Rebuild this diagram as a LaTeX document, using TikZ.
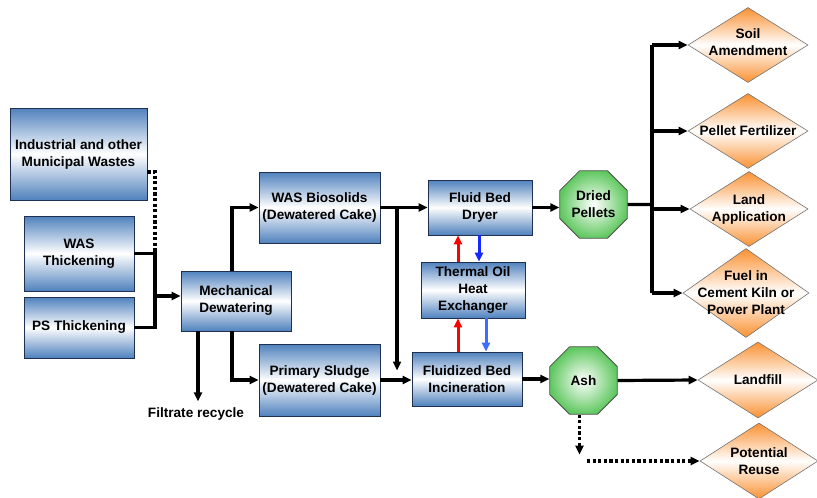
\documentclass[tikz,border=0pt]{standalone}
\usepackage{fontspec}
\setmainfont{Liberation Sans}
\usetikzlibrary{shapes.geometric,arrows.meta}
\definecolor{boxblue}{RGB}{79,129,189}
\definecolor{boxedge}{RGB}{31,48,80}
\definecolor{octgreen}{RGB}{96,200,96}
\definecolor{dmdorange}{RGB}{250,145,50}
\definecolor{hotred}{RGB}{255,0,0}
\definecolor{coldblue}{RGB}{20,40,255}
\definecolor{coldblue2}{RGB}{60,110,255}
\begin{document}
\begin{tikzpicture}[x=1pt,y=-1pt,
  every node/.style={font=\bfseries\fontsize{13.6}{17}\selectfont,inner sep=0pt,align=center},
  procbox/.style={draw=boxedge,line width=0.8pt,top color=boxblue,bottom color=boxblue,middle color=white},
  octbox/.style={regular polygon,regular polygon sides=8,minimum size=73pt,draw=black!70,line width=0.8pt,inner color=white,outer color=octgreen},
  dmdbox/.style={diamond,draw=black!55,line width=0.6pt,top color=dmdorange,bottom color=dmdorange,middle color=white},
  line/.style={line width=3.2pt},
  flow/.style={line width=3.2pt,-{Triangle[length=9pt,width=8pt]}},
  dots/.style={line width=3.2pt,dash pattern=on 3.2pt off 2.4pt},
  dotflow/.style={dots,-{Triangle[length=9pt,width=8pt]}},
  hot/.style={line width=3pt,hotred,-{Triangle[length=9pt,width=8pt]}},
  cold/.style={line width=3pt,coldblue,-{Triangle[length=9pt,width=8pt]}}]
\useasboundingbox (0,0) rectangle (817,498);
% process boxes
\node[procbox,minimum width=137pt,minimum height=92pt] (indw) at (78.5,154) {Industrial and other\\Municipal Wastes};
\node[procbox,minimum width=110pt,minimum height=75pt] (wast) at (79,253.5) {WAS\\Thickening};
\node[procbox,minimum width=110pt,minimum height=61pt] (pst) at (79,327.5) {PS Thickening};
\node[procbox,minimum width=110pt,minimum height=60pt] (mech) at (236,301) {Mechanical\\Dewatering};
\node[procbox,minimum width=121pt,minimum height=71pt] (wasb) at (319.5,207.5) {WAS Biosolids\\(Dewatered Cake)};
\node[procbox,minimum width=121pt,minimum height=72pt] (prim) at (319.5,380) {Primary Sludge\\(Dewatered Cake)};
\node[procbox,minimum width=104pt,minimum height=55pt] (dryer) at (480,207.5) {Fluid Bed\\Dryer};
\node[procbox,minimum width=104pt,minimum height=56pt] (oil) at (473,290) {Thermal Oil\\Heat\\Exchanger};
\node[procbox,minimum width=110pt,minimum height=54pt] (incin) at (467,379) {Fluidized Bed\\Incineration};
% products
\node[octbox] (pellets) at (593.5,204.5) {Dried\\Pellets};
\node[octbox] (ash) at (583.5,380.5) {Ash};
% end uses
\node[dmdbox,minimum width=120pt,minimum height=75pt] (soil) at (748,45) {};
\node[dmdbox,minimum width=120pt,minimum height=75pt] (fert) at (748,131) {};
\node[dmdbox,minimum width=118pt,minimum height=75pt] (land) at (749,209) {};
\node[dmdbox,minimum width=126pt,minimum height=89pt] (fuel) at (746,293) {};
\node[dmdbox,minimum width=120pt,minimum height=76pt] (landfill) at (758,380) {};
\node[dmdbox,minimum width=118pt,minimum height=76pt] (reuse) at (759,461) {};
\node (soiltxt) at ([yshift=3pt]soil.center) {Soil\\Amendment};
\node (ferttxt) at (fert) {Pellet Fertilizer};
\node (landtxt) at (land) {Land\\Application};
\node (fueltxt) at (fuel) {Fuel in\\Cement Kiln or\\Power Plant};
\node (landfilltxt) at (landfill) {Landfill};
\node (reusetxt) at (reuse) {Potential\\Reuse};
\node (filt) at (196,414) {Filtrate recycle};
% junctions
\coordinate (jin) at (155,296);
\coordinate (jb) at (397,207.5);
\coordinate (jp) at (652,204.5);
\coordinate (ashturn) at (587,461);
% connectors
\draw[line] (wast.east) -| (jin);
\draw[line] (pst.east) -| (jin);
\draw[flow] (jin) -- (jin -| mech.west);
\draw[dots] (indw.east) ++(0,18) -| (wast.east -| jin);
\draw[flow] ([xshift=-4pt]mech.north) |- (wasb.west);
\draw[flow] ([xshift=-4pt]mech.south) |- (prim.west);
\draw[flow] ([xshift=-38pt]mech.south) -- ([xshift=2pt,yshift=6pt]filt.north);
\draw[flow] (wasb.east) -- (dryer.west);
\draw[flow] (jb) -- ++(0,163);
\draw[flow] (prim.east) -- (prim.east -| incin.west);
\draw[hot] ([xshift=-15pt]oil.north) -- ([xshift=-15pt]oil.north |- dryer.south);
\draw[cold] ([xshift=-1pt]dryer.south) -- ([xshift=-1pt]dryer.south |- oil.north);
\draw[hot] ([xshift=-9pt]incin.north) -- ([xshift=-9pt]incin.north |- oil.south);
\draw[cold,coldblue2] ([xshift=13pt]oil.south) -- ([xshift=13pt]oil.south |- incin.north);
\draw[flow] (dryer.east) -- (dryer.east -| pellets.west);
\draw[line] (pellets.east) -- (jp);
\draw[line] (jp |- soil) -- (jp |- fuel);
\draw[flow] (jp |- soil) -- (soil.west);
\draw[flow] (jp |- fert) -- (fert.west);
\draw[flow] (jp |- land) -- (land.west);
\draw[flow] (jp |- fuel) -- (fuel.west);
\draw[flow] (incin.east) -- (incin.east -| ash.west);
\draw[flow] (ash.east) -- (landfill.west);
\draw[dotflow] ([xshift=-4pt]ash.south) -- ++(0,40);
\draw[dotflow] (ashturn) -- (reuse.west);
\end{tikzpicture}
\end{document}
